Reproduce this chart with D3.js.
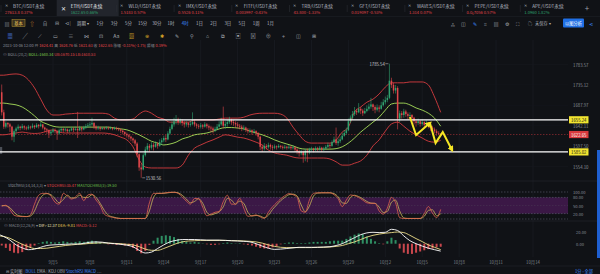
<!DOCTYPE html>
<html>
<head>
<meta charset="utf-8">
<style>
  html, body { margin: 0; padding: 0; background: #101216; }
  svg { display: block; font-family: "Noto Sans CJK SC", "Noto Sans", sans-serif; }
</style>
<script src="https://cdn.jsdelivr.net/npm/d3@7/dist/d3.min.js"></script>
</head>
<body>
<svg id="chart" width="600" height="274"></svg>
<script>
// ---- data (ETH/USDT perpetual, 4h candles) ----
var candleStart = new Date(2023, 7, 31, 20); // first 4h candle
var firstOpen = 1718;
var closes = [1672,
  1640,1648,1645,1640,1618,1630, 1636,1640,1637,1641,1638,1636, 1640,1638,1642,1639,1644,1641,
  1645,1638,1634,1632,1625,1629, 1633,1630,1625,1632,1635,1632, 1634,1630,1632,1636,1633,1635,
  1632,1637,1634,1638,1641,1643, 1645,1648,1640,1636,1638,1635, 1637,1636,1638,1636,1637,1635,
  1637,1636,1634,1631,1628,1624, 1621,1618,1614,1610,1603,1580, 1552,1548,1578,1590,1598,1594,
  1600,1596,1603,1598,1606,1610, 1615,1612,1625,1635,1645,1652, 1656,1650,1653,1648,1645,1648,
  1644,1646,1650,1645,1642,1640, 1643,1640,1645,1641,1638,1636, 1632,1635,1640,1645,1652,1642,
  1646,1650,1655,1650,1648,1645, 1642,1640,1636,1638,1633,1630, 1632,1628,1630,1626,1618,1596,
  1592,1598,1595,1600,1596,1594, 1597,1595,1598,1596,1594,1596, 1594,1596,1593,1595,1590,1586,
  1582,1585,1578,1588,1584,1590, 1592,1589,1593,1591,1594,1590, 1592,1596,1600,1598,1606,1612,
  1604,1608,1612,1620,1626,1632, 1652,1660,1668,1675,1672,1680, 1676,1670,1675,1680,1685,1690,
  1684,1678,1683,1680,1688,1695, 1700,1705,1745,1735,1722,1728, 1658,1670,1666,1674,1668,1664,
  1666,1660,1652,1648,1652,1646, 1650,1644,1648,1642,1638,1634, 1630,1626,1624.41,1622.65];
var highs = [1736,
  1678,1652,1650,1648,1642,1634, 1640,1645,1642,1646,1643,1641, 1644,1642,1647,1644,1648,1646,
  1650,1646,1640,1637,1634,1633, 1637,1636,1633,1636,1639,1637, 1638,1636,1635,1640,1638,1640,
  1673,1642,1640,1642,1646,1648, 1650,1660,1650,1643,1642,1640, 1640,1639,1641,1640,1640,1639,
  1640,1640,1638,1636,1633,1630, 1627,1624,1620,1616,1613,1606, 1582,1560,1582,1596,1604,1602,
  1606,1604,1608,1606,1612,1615, 1620,1622,1630,1640,1652,1660, 1666,1660,1658,1656,1652,1652,
  1650,1652,1672,1655,1648,1646, 1648,1646,1650,1648,1645,1642, 1640,1640,1646,1652,1660,1685,
  1652,1655,1662,1658,1655,1652, 1650,1646,1644,1643,1640,1637, 1636,1634,1635,1632,1628,1620,
  1600,1604,1602,1605,1603,1600, 1601,1599,1602,1600,1599,1600, 1598,1600,1598,1599,1597,1594,
  1590,1590,1588,1592,1592,1594, 1596,1594,1597,1596,1598,1596, 1596,1600,1605,1603,1610,1618,
  1638,1614,1618,1626,1632,1638, 1658,1665,1675,1684,1680,1693, 1684,1680,1682,1688,1692,1705,
  1692,1688,1690,1688,1696,1702, 1708,1712,1785.54,1752,1740,1735, 1732,1676,1675,1680,1678,1672,
  1672,1668,1662,1656,1658,1655, 1656,1652,1654,1650,1646,1642, 1638,1634,1630,1624.76];
var lows = [1665,
  1635,1636,1638,1628,1610,1606, 1625,1632,1632,1634,1633,1632, 1633,1634,1636,1635,1637,1636,
  1639,1634,1628,1624,1615,1620, 1626,1625,1611,1622,1628,1627, 1629,1626,1627,1630,1628,1631,
  1615,1630,1629,1632,1635,1638, 1639,1642,1635,1632,1633,1631, 1633,1633,1634,1633,1634,1632,
  1633,1632,1630,1626,1623,1619, 1616,1612,1608,1604,1598,1574, 1545,1530.56,1546,1575,1585,1586,
  1590,1588,1594,1592,1596,1600, 1606,1606,1610,1622,1632,1640, 1645,1644,1645,1642,1638,1640,
  1638,1640,1643,1640,1636,1635, 1636,1635,1638,1636,1632,1628, 1625,1628,1632,1638,1642,1636,
  1635,1640,1646,1644,1642,1638, 1636,1634,1630,1632,1628,1625, 1626,1622,1625,1620,1612,1589,
  1585,1588,1590,1592,1590,1588, 1591,1590,1593,1592,1590,1591, 1590,1591,1589,1590,1585,1580,
  1575,1578,1562,1565,1563,1580, 1586,1584,1587,1586,1588,1585, 1587,1590,1593,1592,1596,1604,
  1600,1598,1604,1610,1618,1622, 1630,1648,1655,1664,1666,1670, 1668,1664,1668,1672,1676,1680,
  1675,1670,1674,1672,1678,1685, 1690,1695,1702,1728,1715,1715, 1634,1650,1658,1660,1662,1656,
  1658,1652,1645,1640,1644,1640, 1642,1638,1640,1636,1630,1628, 1625,1620,1621,1621.63];

// Bollinger (20,2), read every 12h
var bandStart = new Date(2023, 7, 31, 12);
var bollUpper = [1758,1758,1760,1761,1758,1747,1728,1702,1677,1666,
  1666,1668,1669,1670,1670,1670,1670,1670,1668,1659,
  1655,1655,1657,1668,1675,1670,1661,1657,1650,1650,
  1650,1650,1655,1655,1655,1655,1657,1659,1659,1659,
  1661,1666,1669,1670,1670,1670,1668,1659,1639,1622,
  1608,1604,1604,1604,1604,1611,1628,1639,1673,1684,
  1695,1702,1714,1730,1740,1740,1740,1742,1742,1742,
  1735,1707,1672];
var bollMid = [1693,1693,1691,1689,1684,1675,1664,1652,1646,1641,
  1639,1639,1639,1639,1639,1639,1639,1639,1639,1637,
  1635,1633,1628,1622,1615,1608,1604,1600,1602,1606,
  1613,1617,1622,1624,1626,1630,1635,1638,1638,1637,
  1635,1630,1626,1622,1617,1611,1606,1602,1598,1593,
  1591,1591,1591,1591,1591,1592,1596,1604,1615,1628,
  1639,1650,1661,1677,1691,1693,1693,1689,1682,1677,
  1670,1659,1641];
var bollLower = [1622,1622,1624,1626,1628,1626,1625,1626,1630,1633,
  1628,1626,1626,1626,1626,1626,1626,1626,1625,1622,
  1617,1611,1596,1568,1553,1551,1551,1551,1551,1551,
  1557,1578,1593,1600,1606,1611,1617,1622,1620,1617,
  1615,1611,1606,1600,1589,1583,1580,1578,1574,1572,
  1572,1572,1572,1572,1570,1564,1557,1557,1561,1566,
  1578,1598,1611,1630,1646,1650,1641,1630,1622,1615,
  1608,1606,1610];

// StochRSI(14,14,3,3) and MACD histogram, read every 8h
var oscStart = new Date(2023, 7, 31, 20);
var stochK = [47,51,35,14,10,9,9,15,55,88,
  95,95,85,62,55,95,85,74,82,95,
  68,89,92,70,50,18,10,6,3,2,
  2,2,2,2,2,2,60,95,95,95,
  97,99,99,95,82,66,55,76,75,44,
  12,18,25,28,64,88,55,55,77,40,
  10,12,15,8,2,25,45,60,75,86,
  94,90,80,30,25,70,95,97,97,97,
  97,90,75,46,70,89,86,80,70,60,
  58,58,30,18,40,80,60,5,2,2,
  2,2,2,20,46,22,5,35.47];
var stochD = [50,49,42,25,13,10,9,11,30,65,
  88,94,90,75,60,72,88,78,78,88,
  80,80,90,80,58,32,14,8,4,2,
  2,2,2,2,2,2,30,80,95,95,
  96,98,99,97,88,74,60,65,75,58,
  25,15,20,26,45,76,70,55,66,58,
  25,11,13,11,5,14,35,52,68,80,
  90,92,85,52,27,48,85,96,97,97,
  97,94,82,60,58,80,88,83,75,65,
  59,58,44,24,28,62,70,30,4,2,
  2,2,2,10,32,34,12,19.5];
var macdHist = [-3,-7,-12,-15,-16,-14,-10,-6,-3,1,
  3,4,3,2,3,4,3,2,3,4,
  3,4,5,4,2,0.5,-1,-1,-2,-2,
  -3,-4,-7,-12,-16,-12,-2,5,10,13,
  14,13,11,8,5,3,2,3,2,0.5,
  -1,-2,-2,-1,1,2,1,0.5,1,-1,
  -2,-3,-5,-7,-8,-8,-6,-4,-1,1,
  2,2,1,1,1,2,3,3,3,3,
  4,5,5,5,8,12,15,17,16,12,
  8,4,1,-1,4,10,6,-8,-15,-17,
  -17,-15,-13,-11,-9,-8,-6,-5.12];

// MACD(12,26,9) lines, read every 12h
var macdDif = [16,12,6,-2,-7,-10,-9,-6,-3,-2,
  -1.5,-1,-0.5,-0.5,0.5,2.5,3,2.5,1,0,
  -1,-2.5,-5,-11,-15.5,-14,-8,-2,3,5.5,
  7,7,7,6.5,6,6,6,5.5,5,4.5,
  4,3,0,-4,-7.5,-9.5,-9,-8,-7,-6,
  -6,-6,-6,-5.5,-5,-3,0,5,10,15,
  18,19,18.5,19,24,22,13,5,0,-4,
  -7.5,-10,-12.37];
var macdDea = [13,12,9,4,-1,-5,-8,-8,-7.5,-6,
  -4.5,-3,-2,-1,-0.5,0.5,1,1.5,1,0.5,
  0,-1,-2,-5,-9,-11,-11,-8,-4,0,
  3,4.5,5,5.5,5.5,5.5,5.5,5.5,5,5,
  4.5,4,3,1,-2,-4.5,-6,-6.5,-6.5,-6.5,
  -6.5,-6.5,-6,-6,-5.5,-4.5,-3,0,3,7,
  11,14,16,17.5,18.5,19.5,18.5,14,8.5,3.5,
  -2,-6,-9.81];

var priceTicks = [1783.57, 1735.12, 1687.97, 1642.11, 1597.50, 1554.10];
var stochTicks = [100, 80, 50, 20];
var macdTicks = [20, 0];
var dateTicks = [[8,5],[8,8],[8,11],[8,14],[8,17],[8,20],[8,23],[8,26],[8,29],[9,2],[9,5],[9,8],[9,11],[9,14]];
var levelLines = [1655.24, 1585.02];
var lastPrice = 1622.65;
var highMark = { t: new Date(2023, 9, 2, 8), p: 1785.54 };
var lowMark = { t: new Date(2023, 8, 12, 4), p: 1530.56 };
// hand-drawn forecast zig-zag (time, price)
var arrowLegA = [[new Date(2023,9,4,0),1661.5],[new Date(2023,9,4,12),1621.6],[new Date(2023,9,5,15),1648]];
var arrowLegB = [[new Date(2023,9,5,15),1648],[new Date(2023,9,6,2),1604],[new Date(2023,9,6,16),1628],[new Date(2023,9,7,10),1589]];

var tabNames = ["BTC/USDT永续","ETH/USDT永续","WLD/USDT永续","IMX/USDT永续","FITFI/USDT永续","TRB/USDT永续","GFT/USDT永续","WAVES/USDT永续","PEPE/USDT永续","APE/USDT永续"];
var tabPrices = ["27613.8 0.37%","1622.65 0.66%","1.5183 0.57%","0.5526 0.11%","0.003997 -0.43%","43.800 -1.33%","0.019097 -0.53%","1.314 0.07%","0.0₆7056 0.57%","1.0960 1.82%"];
var tabUp = [false,true,false,false,false,false,false,false,false,true];
var periods = ["1分","3分","5分","15分","30分","1时","4时","1日","2日","3日","5日","1周","1月"];
var activePeriod = "4时";

// ---- setup ----
var RED = "#e0464a", GREEN = "#2fa36f", GRAY = "#8b9099", DIM = "#5f646d";
var HOUR = 3600 * 1000;
var svg = d3.select("#chart");
var plotRight = 568;
var panes = { main: [40, 181], stoch: [181, 221], macd: [221, 257] };

var x = d3.scaleTime()
  .domain([new Date(2023, 8, 5), new Date(2023, 9, 14)])
  .range([53, 533]);
var yPrice = d3.scaleLog().domain([1554.10, 1783.57]).range([166.5, 64.5]);
var yStoch = d3.scaleLinear().domain([0, 100]).range([219, 192]);
var yMacd = d3.scaleLinear().domain([0, 20]).range([243.7, 231.7]);

function at(start, hours, i) { return new Date(start.getTime() + i * hours * HOUR); }

function txt(g, px, py, s, fill, size, anchor) {
  return g.append("text").attr("x", px).attr("y", py)
    .attr("fill", fill).attr("font-size", size || 4.4)
    .attr("text-anchor", anchor || "start")
    .attr("dominant-baseline", "central").text(s);
}

var defs = svg.append("defs");
Object.keys(panes).forEach(function (k) {
  defs.append("clipPath").attr("id", "clip-" + k).append("rect")
    .attr("x", 0).attr("y", panes[k][0]).attr("width", plotRight).attr("height", panes[k][1] - panes[k][0]);
});
defs.append("marker").attr("id", "arrowhead").attr("viewBox", "0 0 10 10")
  .attr("refX", 6).attr("refY", 5).attr("markerWidth", 3.2).attr("markerHeight", 3.2)
  .attr("orient", "auto").append("path").attr("d", "M0,0 L10,5 L0,10 z").attr("fill", "#f5e625");

svg.append("rect").attr("width", 600).attr("height", 274).attr("fill", "#101216");

// ---- top tabs ----
var tabs = svg.append("g");
tabNames.forEach(function (name, i) {
  var ix = 6 + i * 57.7;
  if (i === 1) {
    tabs.append("rect").attr("x", ix - 7).attr("y", 0).attr("width", 62).attr("height", 16).attr("fill", "#22252c");
  } else {
    tabs.append("line").attr("x1", ix - 5).attr("x2", ix - 5).attr("y1", 5).attr("y2", 12).attr("stroke", "#2a2d34").attr("stroke-width", 0.6);
  }
  txt(tabs, ix, i === 1 ? 9 : 5.5, "✕", i === 1 ? "#e6e8eb" : "#9aa0a8", i === 1 ? 5.5 : 3.6, "middle");
  txt(tabs, ix + 7, 5.5, name, i === 1 ? "#eceef1" : "#b5b9c0", 4.6);
  txt(tabs, i === 1 ? ix + 7 : ix - 1, 12, tabPrices[i], tabUp[i] ? GREEN : RED, 4.1);
});
txt(tabs, 587, 7, "+", "#9aa0a8", 8, "middle");
tabs.append("line").attr("x1", 0).attr("x2", 600).attr("y1", 16.5).attr("y2", 16.5).attr("stroke", "#1d2026").attr("stroke-width", 0.6);

// ---- toolbar rows ----
var bar = svg.append("g");
txt(bar, 7, 23, "▤", "#9aa0a8", 5, "middle");
bar.append("rect").attr("x", 12).attr("y", 19.5).attr("width", 13).attr("height", 7).attr("fill", "#3a3220").attr("stroke", "#b8932e").attr("stroke-width", 0.5);
txt(bar, 18.5, 23, "基本", "#e8c35a", 4.2, "middle");
[["⇧", 32, "#e0a030"], ["自", 45, "#9aa0a8"], ["⊟", 57, "#9aa0a8"], ["⊲|", 68, "#9aa0a8"]].forEach(function (d) {
  txt(bar, d[1], 23, d[0], d[2], 4.6, "middle");
});
txt(bar, 77, 23, "周期 ▾", "#c0c4ca", 4.4);
periods.forEach(function (p, i) {
  var px = 100 + i * 14.2;
  txt(bar, px, 23, p, p === activePeriod ? "#3d8bff" : "#b5b9c0", 4.4, "middle");
});
["⁂", "◫", "✎", "⌗", "▤", "⚙", "⛶"].forEach(function (g, i) {
  txt(bar, 453 + i * 10.8, 23, g, i === 2 ? "#3d8bff" : "#a8adb5", 4.8, "middle");
});
txt(bar, 530, 23, "☁", "#a8adb5", 4.6, "middle");
txt(bar, 535, 23, "未保存 ▾", "#a8adb5", 4.2);
bar.append("rect").attr("x", 563).attr("y", 18.5).attr("width", 21).attr("height", 9).attr("rx", 1).attr("fill", "#1f6fe5");
txt(bar, 573.5, 23, "以图分析", "#ffffff", 4.2, "middle");
txt(bar, 591, 23, "⋖", "#3d8bff", 5, "middle");

var icons = ["▦","╱","⟋","▭","≡","⋈","⊡","Aa","▨","⊛","✱","✎","⚲","⌂","⧉","▣","⊠","⊕","⌖","◫","⊞"];
icons.forEach(function (g, i) {
  var col = i === 0 ? "#4f86e8" : (i >= 8 && i <= 10 ? "#d8a628" : "#a3a8b0");
  txt(bar, 10 + i * 15.2, 35, g, col, 5.2, "middle");
});

// ---- grid ----
var grid = svg.append("g");
dateTicks.forEach(function (d) {
  var gx = x(new Date(2023, d[0], d[1]));
  grid.append("line").attr("x1", gx).attr("x2", gx).attr("y1", 40).attr("y2", 257)
    .attr("stroke", "#1d2027").attr("stroke-width", 0.6);
});
priceTicks.forEach(function (p) {
  grid.append("line").attr("x1", 0).attr("x2", plotRight).attr("y1", yPrice(p)).attr("y2", yPrice(p))
    .attr("stroke", "#16191e").attr("stroke-width", 0.5);
});
[181, 221].forEach(function (py) {
  grid.append("line").attr("x1", 0).attr("x2", 600).attr("y1", py).attr("y2", py).attr("stroke", "#262930").attr("stroke-width", 0.6);
});
grid.append("rect").attr("x", 0).attr("y", 147).attr("width", 2.2).attr("height", 7).attr("fill", "#4a4e56");

// ---- main pane ----
var main = svg.append("g").attr("clip-path", "url(#clip-main)");
main.append("line").attr("x1", 0).attr("x2", plotRight).attr("y1", yPrice(lastPrice)).attr("y2", yPrice(lastPrice))
  .attr("stroke", "#9a2f33").attr("stroke-width", 0.7).attr("stroke-dasharray", "1.5,1.5");

var bandLine = d3.line().curve(d3.curveMonotoneX)
  .x(function (d, i) { return x(at(bandStart, 12, i)); })
  .y(function (d) { return yPrice(d); });
main.append("path").attr("d", bandLine(bollUpper)).attr("fill", "none").attr("stroke", "#d63c3f").attr("stroke-width", 0.9);
main.append("path").attr("d", bandLine(bollLower)).attr("fill", "none").attr("stroke", "#d63c3f").attr("stroke-width", 0.9);
main.append("path").attr("d", bandLine(bollMid)).attr("fill", "none").attr("stroke", "#a8e05a").attr("stroke-width", 0.9);

var candles = closes.map(function (c, i) {
  return { t: at(candleStart, 4, i), o: i === 0 ? firstOpen : closes[i - 1], h: highs[i], l: lows[i], c: c };
});
var cg = main.append("g").selectAll("g").data(candles).enter().append("g");
cg.append("line")
  .attr("x1", function (d) { return x(d.t); }).attr("x2", function (d) { return x(d.t); })
  .attr("y1", function (d) { return yPrice(d.h); }).attr("y2", function (d) { return yPrice(d.l); })
  .attr("stroke", function (d) { return d.c >= d.o ? GREEN : RED; }).attr("stroke-width", 0.6);
cg.append("rect")
  .attr("x", function (d) { return x(d.t) - 0.75; }).attr("width", 1.5)
  .attr("y", function (d) { return yPrice(Math.max(d.o, d.c)); })
  .attr("height", function (d) { return Math.max(0.6, yPrice(Math.min(d.o, d.c)) - yPrice(Math.max(d.o, d.c))); })
  .attr("fill", function (d) { return d.c >= d.o ? GREEN : RED; });

levelLines.forEach(function (p) {
  main.append("line").attr("x1", 0).attr("x2", plotRight).attr("y1", yPrice(p)).attr("y2", yPrice(p))
    .attr("stroke", "#ffffff").attr("stroke-width", 1.3);
});

var arrowLine = d3.line().x(function (d) { return x(d[0]); }).y(function (d) { return yPrice(d[1]); });
[arrowLegA, arrowLegB].forEach(function (leg) {
  main.append("path").attr("d", arrowLine(leg)).attr("fill", "none").attr("stroke", "#f5e625")
    .attr("stroke-width", 2).attr("stroke-linejoin", "miter").attr("marker-end", "url(#arrowhead)");
});

// high / low markers
var hx = x(highMark.t), hy = yPrice(highMark.p);
svg.append("line").attr("x1", hx - 4).attr("x2", hx - 1).attr("y1", hy).attr("y2", hy).attr("stroke", "#c8cbd0").attr("stroke-width", 0.5);
txt(svg, hx - 4.5, hy, highMark.p.toFixed(2), "#c8cbd0", 4.3, "end");
var lx = x(lowMark.t), ly = yPrice(lowMark.p);
svg.append("line").attr("x1", lx + 1).attr("x2", lx + 4).attr("y1", ly).attr("y2", ly).attr("stroke", "#c8cbd0").attr("stroke-width", 0.5);
txt(svg, lx + 4.5, ly, lowMark.p.toFixed(2), "#c8cbd0", 4.3, "start");

// price axis
var axis = svg.append("g");
priceTicks.forEach(function (p) {
  txt(axis, 573, yPrice(p), p.toFixed(2), GRAY, 4.3);
});
levelLines.forEach(function (p) {
  axis.append("rect").attr("x", 569).attr("y", yPrice(p) - 3.6).attr("width", 19.5).attr("height", 7.2).attr("fill", "#f2e531");
  txt(axis, 571, yPrice(p), p.toFixed(2), "#111111", 4.3);
});
axis.append("rect").attr("x", 569).attr("y", yPrice(lastPrice) - 3.6).attr("width", 19.5).attr("height", 7.2).attr("fill", "#d8393d");
txt(axis, 571, yPrice(lastPrice), lastPrice.toFixed(2), "#ffffff", 4.3);

// info rows
function flow(py, parts, size) {
  var t = svg.append("text").attr("x", 3).attr("y", py).attr("font-size", size).attr("dominant-baseline", "central");
  parts.forEach(function (p) { t.append("tspan").attr("fill", p[1]).text(p[0]); });
  return t;
}
var last = candles[candles.length - 1];
flow(45, [["2023-10-06 12:00  ", GRAY], ["开 ", GRAY], [last.o.toFixed(2) + "  ", RED], ["高 ", GRAY], [last.h.toFixed(2) + "  ", RED],
  ["低 ", GRAY], [last.l.toFixed(2) + "  ", RED], ["收 ", GRAY], [last.c.toFixed(2) + "  ", RED], ["涨幅 ", GRAY], ["-0.11%(-1.75)  ", RED],
  ["振幅 ", GRAY], ["0.19%", RED]], 3.9);
flow(54, [["⊙ ", GRAY], ["BOLL(20,2)   ", GRAY], ["BOLL:1640.34  ", "#7fce4e"], ["UB:1670.15  ", RED], ["LB:1610.53", RED]], 3.9);

// ---- StochRSI pane ----
var st = svg.append("g").attr("clip-path", "url(#clip-stoch)");
st.append("rect").attr("x", 0).attr("width", plotRight).attr("y", yStoch(80)).attr("height", yStoch(20) - yStoch(80)).attr("fill", "#3b1846");
[100, 80, 50, 20, 0].forEach(function (v) {
  st.append("line").attr("x1", 0).attr("x2", plotRight).attr("y1", yStoch(v)).attr("y2", yStoch(v))
    .attr("stroke", v === 50 ? "#4a3a55" : "#6a6f80").attr("stroke-width", 0.5).attr("stroke-dasharray", "1.5,1.5");
});
var oscLine = function (scale) {
  return d3.line().curve(d3.curveMonotoneX)
    .x(function (d, i) { return x(at(oscStart, 8, i)); })
    .y(function (d) { return scale(d); });
};
st.append("path").attr("d", oscLine(yStoch)(stochD)).attr("fill", "none").attr("stroke", "#c9b65a").attr("stroke-width", 0.8);
st.append("path").attr("d", oscLine(yStoch)(stochK)).attr("fill", "none").attr("stroke", "#e0644f").attr("stroke-width", 0.8);
stochTicks.forEach(function (v) { txt(svg, 573, yStoch(v), v.toFixed(2), GRAY, 4.1); });
var sl = svg.append("text").attr("x", 8).attr("y", 185).attr("font-size", 3.9).attr("dominant-baseline", "central");
[["StochRSI(14,14,3,3)  ▾  ", GRAY], ["STOCHRSI:35.47  ", RED], ["MASTOCHRSI(3):19.50", "#6cc04a"]].forEach(function (p) {
  sl.append("tspan").attr("fill", p[1]).text(p[0]);
});

// ---- MACD pane ----
var mc = svg.append("g").attr("clip-path", "url(#clip-macd)");
mc.selectAll("rect").data(macdHist).enter().append("rect")
  .attr("x", function (d, i) { return x(at(oscStart, 8, i)) - 1; })
  .attr("width", 2)
  .attr("y", function (d) { return d >= 0 ? yMacd(d) : yMacd(0); })
  .attr("height", function (d) { return Math.abs(yMacd(d) - yMacd(0)); })
  .attr("fill", function (d) { return d >= 0 ? "#2f8f63" : "#c9474d"; });
var macdLine = d3.line().curve(d3.curveMonotoneX)
  .x(function (d, i) { return x(at(bandStart, 12, i)); })
  .y(function (d) { return yMacd(d); });
mc.append("path").attr("d", macdLine(macdDea)).attr("fill", "none").attr("stroke", "#efe08a").attr("stroke-width", 0.9);
mc.append("path").attr("d", macdLine(macdDif)).attr("fill", "none").attr("stroke", "#ffffff").attr("stroke-width", 0.9);
macdTicks.forEach(function (v) { txt(svg, 576, yMacd(v), v.toFixed(2), GRAY, 4.1); });
var ml = svg.append("text").attr("x", 4).attr("y", 225).attr("font-size", 3.9).attr("dominant-baseline", "central");
[["⊙ MACD(12,26,9)  ▾  ", GRAY], ["DIF:-12.37  ", "#f3ecc0"], ["DEA:-9.81  ", "#e8d35a"], ["MACD:-5.12", RED]].forEach(function (p) {
  ml.append("tspan").attr("fill", p[1]).text(p[0]);
});

// ---- date axis ----
dateTicks.forEach(function (d) {
  txt(svg, x(new Date(2023, d[0], d[1])), 262, (d[0] + 1) + "月" + d[1], "#7d828b", 4.3, "middle");
});

// ---- bottom bar ----
svg.append("line").attr("x1", 0).attr("x2", 600).attr("y1", 266).attr("y2", 266).attr("stroke", "#22252b").attr("stroke-width", 0.6);
var bb = svg.append("text").attr("x", 6).attr("y", 271).attr("font-size", 4.2).attr("dominant-baseline", "central");
[["⊟ 实时图   ", "#a8adb5"], ["|   ", DIM], ["BOLL  ", "#3d8bff"], ["EMA   ", "#a8adb5"], ["|   ", DIM], ["KDJ   ", "#a8adb5"], ["OBV   ", "#a8adb5"],
 ["StochRSI  ", "#3d8bff"], ["MACD   ", "#3d8bff"], ["⋯", "#a8adb5"]].forEach(function (p) {
  bb.append("tspan").attr("fill", p[1]).text(p[0]);
});
txt(svg, 593, 271, "1分  ›  全部", "#3d8bff", 4.2, "end");
svg.append("rect").attr("x", 597).attr("y", 150).attr("width", 3).attr("height", 108).attr("fill", "#1f5fd0");
</script>
</body>
</html>
